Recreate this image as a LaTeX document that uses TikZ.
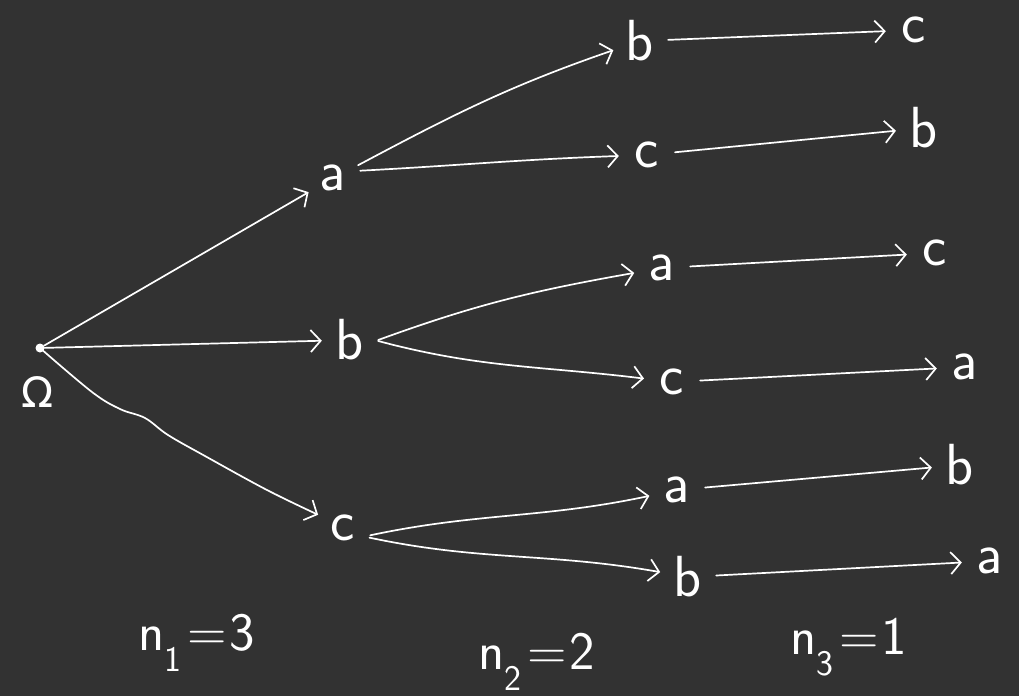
\documentclass[tikz,border=0pt]{standalone}
\usepackage{fontspec}
\newfontfamily\dv{DejaVu Sans}
\usetikzlibrary{arrows.meta}
\definecolor{bg}{RGB}{50,50,50}
\newcommand{\cnt}[2]{n\raisebox{-0.38em}{\fontsize{36}{36}\selectfont #1}\hspace{0.1em}=\hspace{0.06em}#2}
\begin{document}
\begin{tikzpicture}[x=1pt,y=1pt,
  ln/.style={draw=white,line width=1.7pt,line cap=round,line join=round,-{Straight Barb[length=10pt,width=22pt]}},
  lt/.style={circle,inner sep=0pt,minimum size=56pt,text=white,font=\sffamily\fontsize{58}{58}\selectfont},
  lab/.style={text=white,inner sep=0pt,font=\sffamily\fontsize{54}{54}\selectfont}]
\fill[bg] (0,0) rectangle (1019,-696);
\useasboundingbox (0,0) rectangle (1019,-696);
% root
\node[circle,fill=white,inner sep=0pt,minimum size=9pt] (om) at (40,-348) {};
\node[text=white,inner sep=0pt,font=\dv\fontsize{42}{42}\selectfont] (omlab) at (38,-392) {Ω};
% level 1
\node[lt] (a1) at (333,-178) {a};
\node[lt] (b1) at (350,-340) {b};
\node[lt] (c1) at (343,-528) {c};
% level 2
\node[lt] (b2) at (640,-41) {b};
\node[lt] (c2) at (647,-155) {c};
\node[lt] (a2) at (662,-268) {a};
\node[lt] (c2b) at (672,-382) {c};
\node[lt] (a2b) at (677,-490) {a};
\node[lt] (b2b) at (688,-577) {b};
% level 3
\node[lt] (c3) at (914,-30) {c};
\node[lt] (b3) at (924,-128) {b};
\node[lt] (c3b) at (935,-253) {c};
\node[lt] (a3) at (965,-367) {a};
\node[lt] (b3b) at (960,-465) {b};
\node[lt] (a3b) at (990,-561) {a};
% counts
\node[lab] (n1) at (197,-643) {\cnt{1}{3}};
\node[lab] (n2) at (537,-662) {\cnt{2}{2}};
\node[lab] (n3) at (849,-647) {\cnt{3}{1}};
% edges level 1
\draw[ln] (om) -- (a1);
\draw[ln] (om) -- (b1);
\draw[ln] plot[smooth,tension=0.6] coordinates {(om) (92,-392) (120,-409) (145,-418) (168,-435) (205,-456) (267,-490) (c1.152)};
% edges level 2
\draw[ln] (a1.27) to[out=28,in=199] (b2);
\draw[ln] (a1.15) to[out=3,in=182] (c2);
\draw[ln] (b1.0) to[out=20,in=190] (a2);
\draw[ln] (b1.-2) to[out=-15,in=173] (c2b);
\draw[ln] (c1.-15) to[out=12,in=192] (a2b);
\draw[ln] (c1.-20) to[out=-12,in=170] (b2b);
% edges level 3
\draw[ln] (b2) -- (c3);
\draw[ln] (c2) -- (b3);
\draw[ln] (a2) -- (c3b);
\draw[ln] (c2b) -- (a3);
\draw[ln] (a2b) -- (b3b);
\draw[ln] (b2b) -- (a3b);
\end{tikzpicture}
\end{document}
